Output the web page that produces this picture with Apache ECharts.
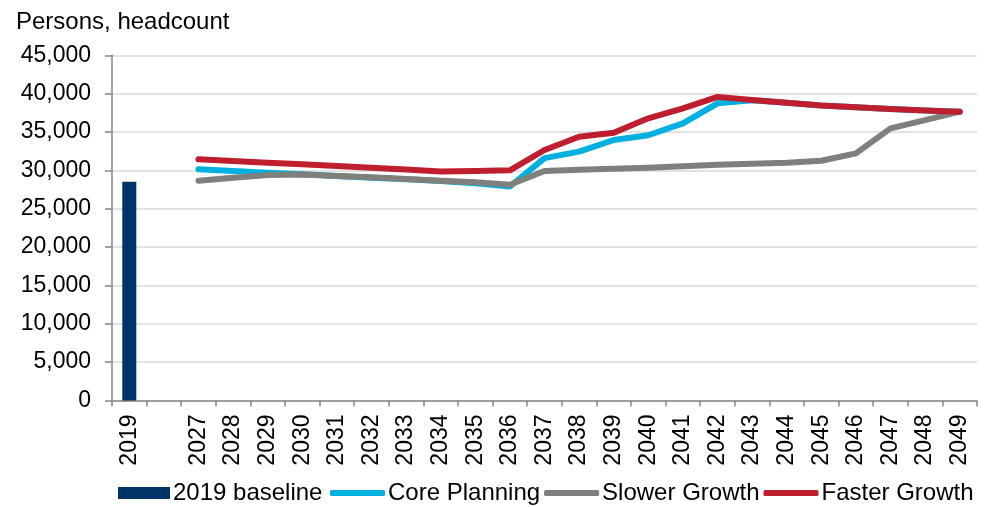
<!DOCTYPE html>
<html>
<head>
<meta charset="utf-8">
<script src="https://cdn.jsdelivr.net/npm/echarts@6/dist/echarts.min.js"></script>
<style>
  html, body { margin: 0; padding: 0; background: #fff; }
  #chart { width: 991px; height: 507px; }
</style>
</head>
<body>
<div id="chart"></div>
<script>
// Workforce projection, persons (headcount)
const years = ['2019', '', '2027', '2028', '2029', '2030', '2031', '2032', '2033', '2034', '2035',
  '2036', '2037', '2038', '2039', '2040', '2041', '2042', '2043', '2044', '2045', '2046',
  '2047', '2048', '2049'];

const baseline2019 = [28500, null, null, null, null, null, null, null, null, null, null, null,
  null, null, null, null, null, null, null, null, null, null, null, null, null];

const corePlanning = [null, null, 30140, 29920, 29700, 29490, 29270, 29050, 28830, 28600, 28310,
  27900, 31600, 32440, 33960, 34580, 36130, 38740, 39150, 38800, 38450, 38230, 38000, 37800, 37650];

const slowerGrowth = [null, null, 28650, 29050, 29380, 29450, 29270, 29100, 28880, 28650, 28440,
  28120, 29920, 30080, 30200, 30330, 30550, 30720, 30850, 31000, 31250, 32220, 35480, 36560, 37650];

const fasterGrowth = [null, null, 31440, 31220, 31000, 30790, 30570, 30350, 30100, 29850, 29920,
  30000, 32650, 34380, 34900, 36790, 38090, 39580, 39170, 38800, 38450, 38220, 38000, 37800, 37650];

const yTicks = { min: 0, max: 45000, step: 5000 };

const FONT = '"Liberation Sans", Arial, sans-serif';
const legendText = { fontFamily: FONT, fontSize: 24, color: '#000', padding: [0, 0, 0, -2] };
const chart = echarts.init(document.getElementById('chart'));

function lineSeries(name, data, color) {
  return {
    name: name,
    type: 'line',
    data: data,
    symbol: 'none',
    connectNulls: false,
    lineStyle: { color: color, width: 6, cap: 'round', join: 'round' },
    itemStyle: { color: color },
    emphasis: { disabled: true }
  };
}

chart.setOption({
  animation: false,
  backgroundColor: '#ffffff',
  title: {
    text: 'Persons, headcount',
    left: 11,
    top: 5,
    textStyle: { fontFamily: FONT, fontSize: 24, fontWeight: 'normal', color: '#000' }
  },
  legend: [
    {
      left: 118,
      top: 481,
      padding: 0,
      itemWidth: 52,
      itemHeight: 12,
      icon: 'rect',
      textStyle: legendText,
      data: ['2019 baseline']
    },
    {
      left: 330,
      top: 481,
      padding: 0,
      itemGap: 4,
      itemWidth: 55,
      itemHeight: 6,
      icon: 'roundRect',
      textStyle: legendText,
      data: ['Core Planning', 'Slower Growth', 'Faster Growth']
    }
  ],
  grid: { left: 112, right: 14, top: 55.3, bottom: 106.5, containLabel: false },
  xAxis: {
    type: 'category',
    data: years,
    boundaryGap: true,
    axisLine: { lineStyle: { color: '#868686', width: 1.5 } },
    axisTick: { show: true, alignWithLabel: false, interval: 0, length: 6, lineStyle: { color: '#868686', width: 1.5 } },
    axisLabel: { interval: 0, rotate: 90, margin: 14, fontFamily: FONT, fontSize: 23, color: '#000' },
    splitLine: { show: false }
  },
  yAxis: {
    type: 'value',
    min: yTicks.min,
    max: yTicks.max,
    interval: yTicks.step,
    axisLine: { show: true, lineStyle: { color: '#868686', width: 1.5 } },
    axisTick: { show: true, length: 7, lineStyle: { color: '#868686', width: 1.5 } },
    axisLabel: {
      margin: 21,
      fontFamily: FONT,
      fontSize: 23,
      color: '#000',
      formatter: v => v.toLocaleString('en-US')
    },
    splitLine: { lineStyle: { color: '#d9d9d9', width: 1.5 } }
  },
  series: [
    {
      name: '2019 baseline',
      type: 'bar',
      data: baseline2019,
      barWidth: 14,
      itemStyle: { color: '#003366' },
      emphasis: { disabled: true }
    },
    lineSeries('Core Planning', corePlanning, '#00B0E0'),
    lineSeries('Slower Growth', slowerGrowth, '#7F7F7B'),
    lineSeries('Faster Growth', fasterGrowth, '#BE1E2D')
  ]
});
</script>
</body>
</html>
